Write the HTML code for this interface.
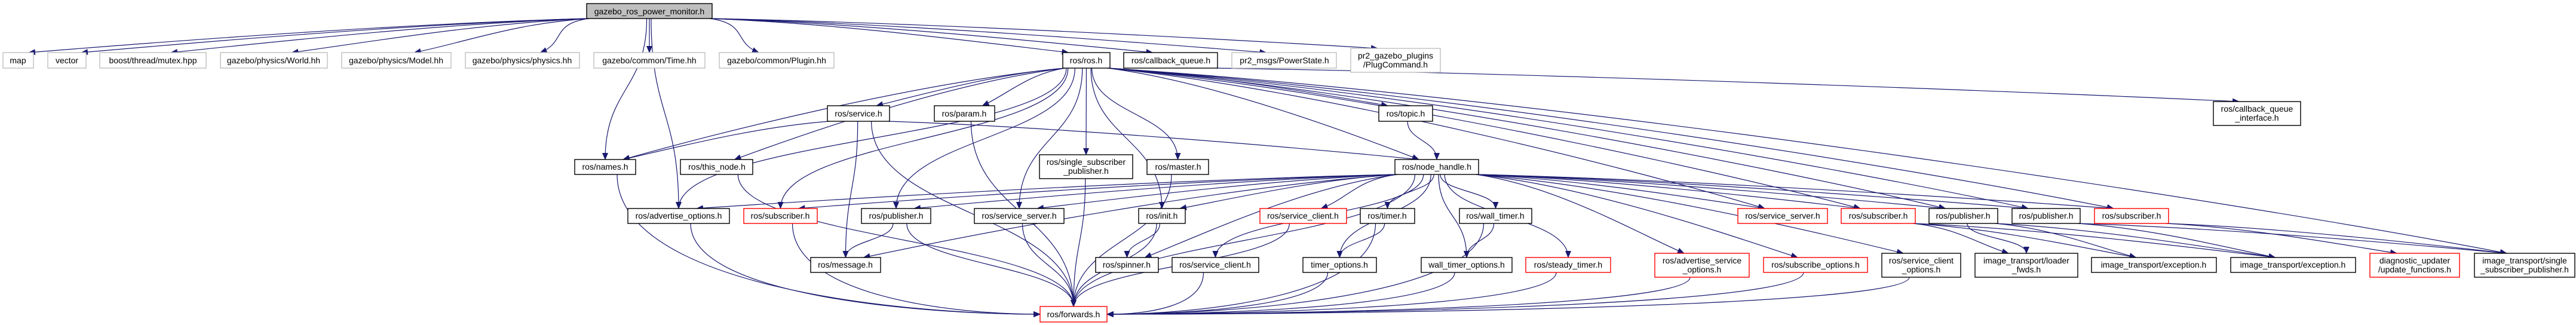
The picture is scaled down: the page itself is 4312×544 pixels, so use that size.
<!DOCTYPE html>
<html><head><meta charset="utf-8"><style>
html,body{margin:0;padding:0;background:#fff;}
svg{display:block;}
text{font-family:"Liberation Sans",Helvetica,sans-serif;font-size:14px;fill:#000;}
</style></head><body>
<svg id="s" width="4312" height="544" viewBox="0 0 4312 544" xmlns="http://www.w3.org/2000/svg">
<defs><marker id="a" markerUnits="userSpaceOnUse" markerWidth="12" markerHeight="10" refX="11" refY="5" orient="auto"><path d="M0,0 L12,5 L0,10 Z" fill="#191970"/></marker></defs>
<g id="edges" fill="none" stroke="#191970" stroke-width="1.2"></g>
<g id="nodes" stroke-width="1.4">
<rect x="982" y="6" width="210" height="25" fill="#bfbfbf" stroke="#000"/><text x="1087" y="24" text-anchor="middle">gazebo_ros_power_monitor.h</text>
<g fill="#fff" stroke="#bfbfbf">
<rect x="5" y="88" width="51" height="26"/><rect x="80" y="88" width="64" height="26"/><rect x="167" y="88" width="178" height="26"/><rect x="369" y="88" width="179" height="26"/><rect x="572" y="88" width="183" height="26"/><rect x="779" y="88" width="191" height="26"/><rect x="994" y="88" width="186" height="26"/><rect x="1204" y="88" width="192" height="26"/><rect x="2062" y="88" width="175" height="26"/><rect x="2261" y="81" width="150" height="40"/>
</g>
<g fill="#fff" stroke="#000">
<rect x="1779" y="88" width="79" height="26"/><rect x="1881" y="88" width="157" height="26"/>
<rect x="1385" y="177" width="104" height="26"/><rect x="1564" y="177" width="101" height="26"/><rect x="2308" y="177" width="90" height="26"/><rect x="3705" y="170" width="146" height="40"/>
<rect x="962" y="267" width="102" height="25"/><rect x="1139" y="267" width="121" height="25"/><rect x="1740" y="259" width="156" height="40"/><rect x="1920" y="267" width="103" height="25"/><rect x="2335" y="267" width="140" height="25"/>
<rect x="1051" y="349" width="170" height="25"/><rect x="1442" y="349" width="116" height="25"/><rect x="1631" y="349" width="150" height="25"/><rect x="1906" y="349" width="78" height="25"/><rect x="2277" y="349" width="91" height="25"/><rect x="2443" y="349" width="121" height="25"/><rect x="3229" y="349" width="115" height="25"/><rect x="3368" y="349" width="114" height="25"/>
<rect x="1357" y="431" width="117" height="25"/><rect x="1834" y="431" width="105" height="25"/><rect x="1962" y="431" width="145" height="25"/><rect x="2181" y="431" width="123" height="25"/><rect x="2379" y="431" width="152" height="25"/><rect x="3150" y="424" width="132" height="40"/><rect x="3306" y="424" width="172" height="40"/><rect x="3501" y="431" width="209" height="25"/><rect x="3734" y="431" width="209" height="25"/><rect x="4142" y="424" width="168" height="40"/>
</g>
<g fill="#fff" stroke="#ff0000">
<rect x="1245" y="349" width="123" height="25"/><rect x="2109" y="349" width="145" height="25"/><rect x="2909" y="349" width="150" height="25"/><rect x="3082" y="349" width="124" height="25"/><rect x="3506" y="349" width="124" height="25"/>
<rect x="2554" y="431" width="142" height="25"/><rect x="2770" y="424" width="158" height="40"/><rect x="2952" y="431" width="174" height="25"/><rect x="3967" y="424" width="150" height="40"/>
<rect x="1741" y="513" width="112" height="26"/>
</g>
</g>
<g text-anchor="middle">
<text x="30" y="106">map</text><text x="112" y="106">vector</text><text x="256" y="106">boost/thread/mutex.hpp</text><text x="458" y="106">gazebo/physics/World.hh</text><text x="663" y="106">gazebo/physics/Model.hh</text><text x="874" y="106">gazebo/physics/physics.hh</text><text x="1087" y="106">gazebo/common/Time.hh</text><text x="1300" y="106">gazebo/common/Plugin.hh</text>
<text x="1818" y="106">ros/ros.h</text><text x="1960" y="106">ros/callback_queue.h</text><text x="2150" y="106">pr2_msgs/PowerState.h</text><text x="2336" y="98">pr2_gazebo_plugins</text><text x="2336" y="113">/PlugCommand.h</text>
<text x="1437" y="195">ros/service.h</text><text x="1614" y="195">ros/param.h</text><text x="2353" y="195">ros/topic.h</text><text x="3778" y="187">ros/callback_queue</text><text x="3778" y="202">_interface.h</text>
<text x="1013" y="284">ros/names.h</text><text x="1200" y="284">ros/this_node.h</text><text x="1818" y="276">ros/single_subscriber</text><text x="1818" y="291">_publisher.h</text><text x="1972" y="284">ros/master.h</text><text x="2405" y="284">ros/node_handle.h</text>
<text x="1136" y="366">ros/advertise_options.h</text><text x="1306" y="366">ros/subscriber.h</text><text x="1500" y="366">ros/publisher.h</text><text x="1706" y="366">ros/service_server.h</text><text x="1945" y="366">ros/init.h</text><text x="2181" y="366">ros/service_client.h</text><text x="2322" y="366">ros/timer.h</text><text x="2503" y="366">ros/wall_timer.h</text><text x="2984" y="366">ros/service_server.h</text><text x="3144" y="366">ros/subscriber.h</text><text x="3286" y="366">ros/publisher.h</text><text x="3425" y="366">ros/publisher.h</text><text x="3568" y="366">ros/subscriber.h</text>
<text x="1415" y="448">ros/message.h</text><text x="1886" y="448">ros/spinner.h</text><text x="2034" y="448">ros/service_client.h</text><text x="2242" y="448">timer_options.h</text><text x="2455" y="448">wall_timer_options.h</text><text x="2625" y="448">ros/steady_timer.h</text><text x="2849" y="441">ros/advertise_service</text><text x="2849" y="456">_options.h</text><text x="3039" y="448">ros/subscribe_options.h</text><text x="3216" y="441">ros/service_client</text><text x="3216" y="456">_options.h</text><text x="3392" y="441">image_transport/loader</text><text x="3392" y="456">_fwds.h</text><text x="3605" y="448">image_transport/exception.h</text><text x="3838" y="448">image_transport/exception.h</text><text x="4042" y="441">diagnostic_updater</text><text x="4042" y="456">/update_functions.h</text><text x="4226" y="441">image_transport/single</text><text x="4226" y="456">_subscriber_publisher.h</text>
<text x="1797" y="531">ros/forwards.h</text>
</g>
</svg>
<script>
var N={main:[982,6,1192,31],map:[5,88,56,114],vec:[80,88,144,114],boost:[167,88,345,114],world:[369,88,548,114],model:[572,88,755,114],phys:[779,88,970,114],time:[994,88,1180,114],plug:[1204,88,1396,114],ros:[1779,88,1858,114],cbq:[1881,88,2038,114],pow:[2062,88,2237,114],pcmd:[2261,81,2411,121],
srv:[1385,177,1489,203],param:[1564,177,1665,203],topic:[2308,177,2398,203],cbqi:[3705,170,3851,210],
names:[962,267,1064,292],thisn:[1139,267,1260,292],ssp:[1740,259,1896,299],master:[1920,267,2023,292],nh:[2335,267,2475,292],
advo:[1051,349,1221,374],sub1:[1245,349,1368,374],pub1:[1442,349,1558,374],ss1:[1631,349,1781,374],init:[1906,349,1984,374],scr:[2109,349,2254,374],timer:[2277,349,2368,374],wtimer:[2443,349,2564,374],ss2:[2909,349,3059,374],sub2:[3082,349,3206,374],pub2:[3229,349,3344,374],pub3:[3368,349,3482,374],sub3:[3506,349,3630,374],
msg:[1357,431,1474,456],spin:[1834,431,1939,456],sc:[1962,431,2107,456],topt:[2181,431,2304,456],wtopt:[2379,431,2531,456],stim:[2554,431,2696,456],aso:[2770,424,2928,464],subo:[2952,431,3126,456],sco:[3150,424,3282,464],lf:[3306,424,3478,464],ex1:[3501,431,3710,456],ex2:[3734,431,3943,456],diag:[3967,424,4117,464],sspub:[4142,424,4310,464],fw:[1741,513,1853,539]};
var E={main:'map vec boost world model phys time plug ros cbq pow pcmd names advo',
ros:'srv param names thisn sub1 advo pub1 ss1 ssp master init nh topic ss2 sub2 pub2 pub3 sub3 sspub',
cbq:'cbqi',srv:'names msg fw nh',param:'fw',topic:'nh',ssp:'fw',master:'fw',names:'fw',thisn:'fw',advo:'fw',sub1:'fw',pub1:'msg fw',ss1:'fw',init:'spin fw',sc:'fw',
nh:'advo sub1 pub1 ss1 init spin scr timer wtimer topt wtopt stim aso subo sco ss2 sub2 pub2 pub3 sub3 fw sc msg',
timer:'topt fw',wtimer:'wtopt fw',topt:'fw',wtopt:'fw',stim:'fw',aso:'fw',subo:'fw',sco:'fw',scr:'fw',
sub2:'lf ex1 ex2',pub2:'lf ex1 ex2',pub3:'ex2 sspub',sub3:'diag sspub'};
var g=document.getElementById('edges'),ns='http://www.w3.org/2000/svg';
for(var s in E){E[s].split(' ').forEach(function(t){
 var a=N[s],b=N[t],acx=(a[0]+a[2])/2,bcx=(b[0]+b[2])/2,sx,sy,tx,ty,d;
 var dx=bcx-acx,dy=b[1]-a[3];
 var amy=(a[1]+a[3])/2,bmy=(b[1]+b[3])/2;
 if(t==='fw' && Math.abs(dx)>3*dy){
   sx=acx+(dx>0?1:-1)*Math.min((a[2]-a[0])/2-6,20);sy=a[3];
   tx=dx>0?b[0]:b[2];ty=bmy;
   d='M'+sx+','+sy+' C'+sx+','+(sy+(ty-sy)*0.8)+' '+(tx-dx*0.3)+','+ty+' '+tx+','+ty;
 } else if(Math.abs(dx)>3*Math.max(dy,1)){
   sx=dx>0?a[2]-4:a[0]+4;sy=a[3];tx=bcx-(dx>0?1:-1)*Math.min(30,(b[2]-b[0])/2-8);ty=b[1];
   d='M'+sx+','+sy+' C'+(sx+dx*0.3)+','+(sy+dy*0.15)+' '+(tx-dx*0.2)+','+(ty-dy*0.3)+' '+tx+','+ty;
 } else {
   sx=acx+Math.max(-(a[2]-a[0])/2+6,Math.min((a[2]-a[0])/2-6,dx*0.06));sy=a[3];tx=bcx;ty=b[1];
   var m=(ty-sy)*0.5;
   d='M'+sx+','+sy+' C'+sx+','+(sy+m)+' '+tx+','+(ty-m)+' '+tx+','+ty;
 }
 var p=document.createElementNS(ns,'path');p.setAttribute('d',d);p.setAttribute('marker-end','url(#a)');g.appendChild(p);
});}
</script>
</body></html>
